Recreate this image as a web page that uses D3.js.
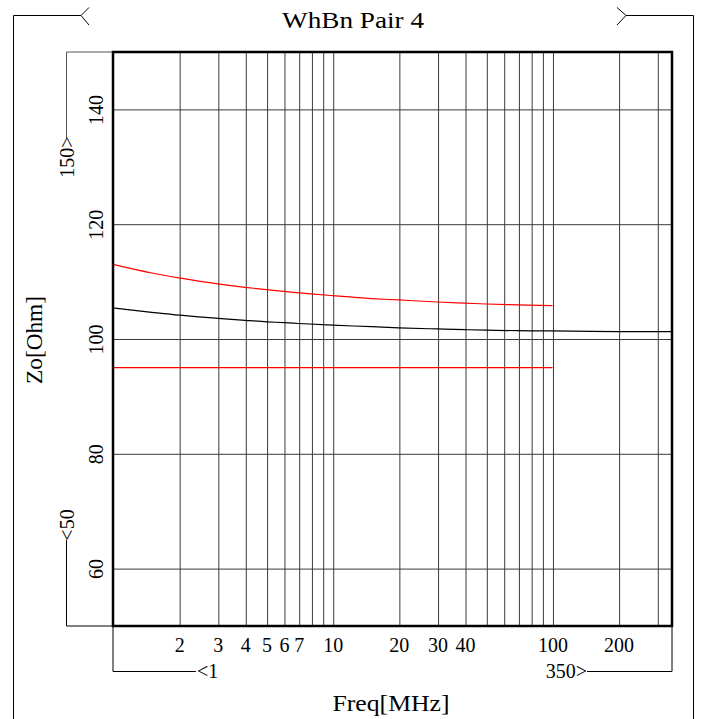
<!DOCTYPE html>
<html>
<head>
<meta charset="utf-8">
<script src="https://cdn.jsdelivr.net/npm/d3@7"></script>
<style>
  html, body { margin: 0; padding: 0; background: #fff; }
  svg { display: block; }
  text { font-family: "Liberation Serif", "DejaVu Serif", serif; fill: #000; }
</style>
</head>
<body>
<svg id="chart" width="705" height="719"></svg>
<script>
// ---- data ----
const titleText = "WhBn Pair 4";
const xTitle = "Freq[MHz]";
const yTitle = "Zo[Ohm]";
const xDomain = [1, 350];
const yDomain = [50, 150];
const xGridValues = [2, 3, 4, 5, 6, 7, 8, 9, 10, 20, 30, 40, 50, 60, 70, 80, 90, 100, 200, 300];
const xTickLabels = [2, 3, 4, 5, 6, 7, 10, 20, 30, 40, 100, 200];
const yTickValues = [60, 80, 100, 120, 140];

// measured characteristic impedance (black)
const measuredFreq = [1, 1.5, 2, 3, 4, 5, 6, 7, 10, 15, 20, 30, 40, 50, 70, 100, 150, 200, 300, 350];
const measuredZo   = [105.4, 104.65, 104.15, 103.6, 103.25, 103.0, 102.85, 102.7, 102.4, 102.15, 101.95, 101.75, 101.62, 101.55, 101.45, 101.4, 101.33, 101.3, 101.28, 101.27];

// upper limit (red)
const upperFreq = [1, 1.5, 2, 3, 4, 5, 6, 7, 8, 10, 15, 20, 30, 40, 50, 70, 100];
const upperZo   = [113.0, 111.5, 110.65, 109.6, 109.0, 108.6, 108.3, 108.05, 107.85, 107.55, 107.05, 106.8, 106.45, 106.25, 106.1, 105.95, 105.8];

// lower limit (red)
const lowerFreq = [1, 100];
const lowerZo   = [95, 95];

// ---- drawing ----
const svg = d3.select("#chart");
const x = d3.scaleLog().domain(xDomain).range([113, 672]);
const y = d3.scaleLinear().domain(yDomain).range([626, 52]);
const X0 = x(xDomain[0]), X1 = x(xDomain[1]), Y0 = y(yDomain[0]), Y1 = y(yDomain[1]);

// outer brackets
const deco = svg.append("g").attr("fill", "none").attr("stroke", "#000").attr("stroke-width", 1);
deco.append("path").attr("d", "M13.5,719 V15.5 H81 M89,7.5 L81,15.5 L89,25");
deco.append("path").attr("d", "M693.5,719 V15.5 H626 M617,7.5 L626,15.5 L617,25");

// y-range bracket
deco.append("path").attr("stroke", "#555").attr("d", `M${X0},${Y1} H66.5 V138`);
deco.append("path").attr("d", `M66.5,540 V${Y0} H${X0}`);
// x-range bracket
deco.append("path").attr("d", `M${X0},${Y0} V671.5 H196`);
deco.append("path").attr("d", `M587,671.5 H${X1} V${Y0}`);

// grid
const gridG = svg.append("g");
gridG.append("g")
  .attr("transform", `translate(0,${Y0})`)
  .call(d3.axisBottom(x).tickValues(xGridValues).tickSize(-(Y0 - Y1)).tickFormat(""))
  .call(g => g.select(".domain").remove())
  .call(g => g.selectAll("line").attr("stroke", "#3a3a3a").attr("stroke-width", 1)
      .attr("transform", "translate(0.5,0)"));
gridG.append("g")
  .attr("transform", `translate(${X0},0)`)
  .call(d3.axisLeft(y).tickValues(yTickValues).tickSize(-(X1 - X0)).tickFormat(""))
  .call(g => g.select(".domain").remove())
  .call(g => g.selectAll("line").attr("stroke", "#3a3a3a").attr("stroke-width", 1));

// tick labels x
const xa = svg.append("g")
  .attr("transform", `translate(0,${Y0})`)
  .call(d3.axisBottom(x).tickValues(xTickLabels).tickSize(0).tickPadding(12).tickFormat(d3.format("d")));
xa.select(".domain").remove();
xa.selectAll("text").attr("font-size", 20).attr("font-family", "Liberation Serif").attr("fill", "#000");

// tick labels y (rotated)
const ya = svg.append("g")
  .attr("transform", `translate(${X0},0)`)
  .call(d3.axisLeft(y).tickValues(yTickValues).tickSize(0).tickFormat(d3.format("d")));
ya.select(".domain").remove();
ya.selectAll("text")
  .attr("x", 0).attr("y", 0).attr("dy", 0)
  .attr("text-anchor", "middle")
  .attr("transform", "translate(-10,0) rotate(-90)")
  .attr("font-size", 20).attr("font-family", "Liberation Serif").attr("fill", "#000");

// bracket labels
svg.append("text").attr("transform", "translate(74,157) rotate(-90)")
  .attr("text-anchor", "middle").attr("font-size", 20).text(yDomain[1] + ">");
svg.append("text").attr("transform", "translate(74,525) rotate(-90)")
  .attr("text-anchor", "middle").attr("font-size", 20).text("<" + yDomain[0]);
svg.append("text").attr("x", 197).attr("y", 678).attr("font-size", 20).text("<" + xDomain[0]);
svg.append("text").attr("x", 587).attr("y", 678).attr("text-anchor", "end").attr("font-size", 20).text(xDomain[1] + ">");

// titles
svg.append("text").attr("x", 353).attr("y", 28).attr("text-anchor", "middle")
  .attr("font-size", 24).attr("textLength", 142).attr("lengthAdjust", "spacingAndGlyphs").text(titleText);
svg.append("text").attr("x", 391).attr("y", 711).attr("text-anchor", "middle")
  .attr("font-size", 24).attr("textLength", 117).attr("lengthAdjust", "spacingAndGlyphs").text(xTitle);
svg.append("text").attr("transform", "translate(42,340) rotate(-90)").attr("text-anchor", "middle")
  .attr("font-size", 24).attr("textLength", 88).attr("lengthAdjust", "spacingAndGlyphs").text(yTitle);

// curves
const line = d3.line().curve(d3.curveMonotoneX).x(d => x(d[0])).y(d => y(d[1]));
const zip = (a, b) => a.map((v, i) => [v, b[i]]);
const curves = svg.append("g").attr("fill", "none").attr("stroke-width", 1.2);
curves.append("path").attr("stroke", "#ff0000").attr("d", line(zip(upperFreq, upperZo)));
curves.append("path").attr("stroke", "#ff0000").attr("d", line(zip(lowerFreq, lowerZo)));
curves.append("path").attr("stroke", "#000").attr("d", line(zip(measuredFreq, measuredZo)));

// plot frame
svg.append("rect").attr("x", X0).attr("y", Y1).attr("width", X1 - X0).attr("height", Y0 - Y1)
  .attr("fill", "none").attr("stroke", "#000").attr("stroke-width", 2.5);
</script>
</body>
</html>
